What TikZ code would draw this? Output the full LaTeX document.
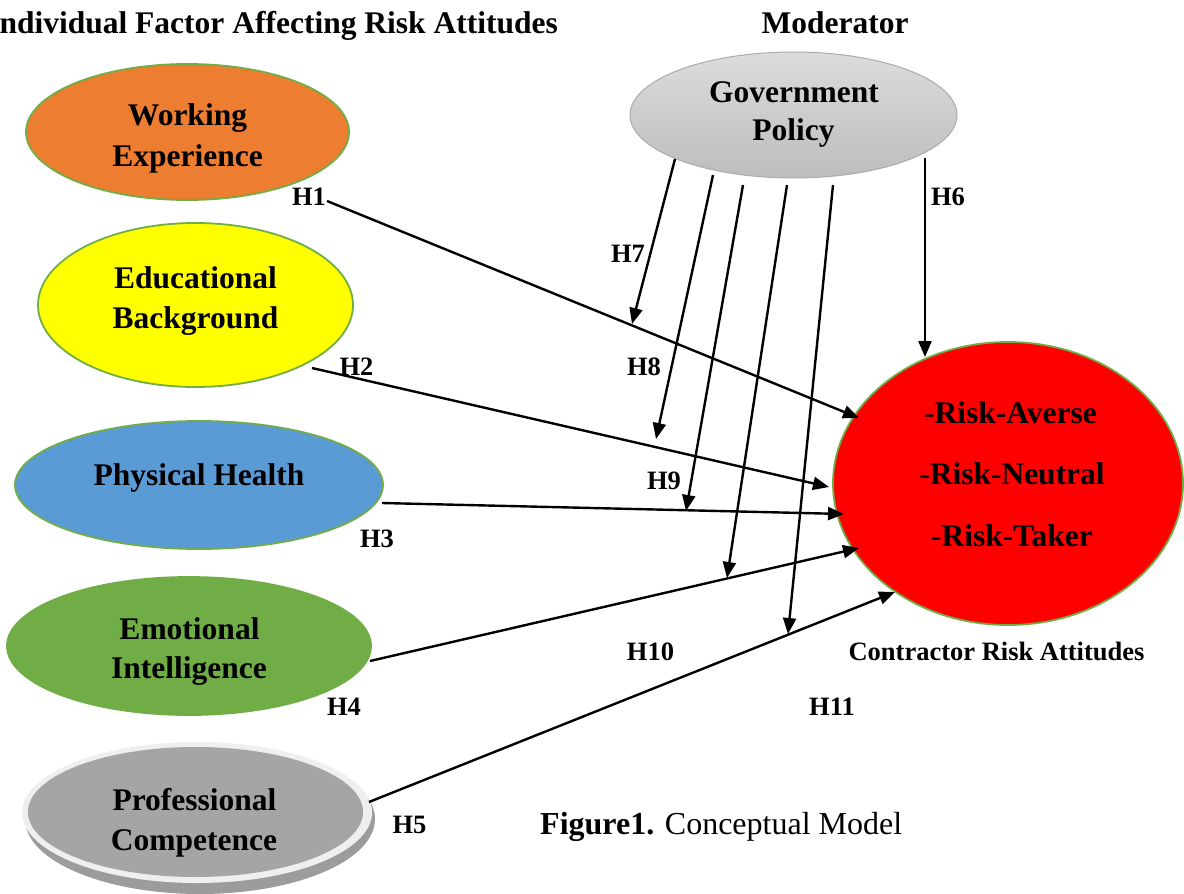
\documentclass[tikz,border=0pt]{standalone}
\usepackage{fontspec}
\setmainfont{Liberation Serif}
\usetikzlibrary{arrows.meta,shapes.geometric}
\definecolor{orangeF}{HTML}{ED7D31}
\definecolor{yellowF}{HTML}{FFFF00}
\definecolor{blueF}{HTML}{5B9BD5}
\definecolor{greenF}{HTML}{70AD47}
\definecolor{grayF}{HTML}{A5A5A5}
\definecolor{ringF}{HTML}{EFEFEF}
\definecolor{shadowF}{HTML}{9C9C9C}
\definecolor{redF}{HTML}{FF0000}
\definecolor{govTop}{HTML}{DCDCDC}
\definecolor{govBot}{HTML}{BDBDBD}
\definecolor{govBorder}{HTML}{ABABAB}
\begin{document}
\begin{tikzpicture}[x=1pt,y=-1pt,
  ell/.style={ellipse, draw=greenF, line width=1.8pt, inner sep=0pt, outer sep=0pt},
  big/.style={font=\fontsize{31.5}{38}\selectfont\bfseries, anchor=base, inner sep=0pt},
  hl/.style={font=\fontsize{26.5}{30}\selectfont\bfseries, anchor=base, inner sep=0pt},
  arr/.style={line width=2.4pt, -{Triangle[length=16pt,width=13pt]}},
]
\clip (0,0) rectangle (1184,894);

% titles
\node[big, anchor=base east] (title) at (558,34) {Individual Factor Affecting Risk Attitudes};
\node[big] (moder) at (835,34) {Moderator};

% left ellipses
\node[ell, fill=orangeF, minimum width=323pt, minimum height=136pt] (we) at (187.5,132) {};
\node[ell, fill=yellowF, minimum width=315pt, minimum height=164pt] (eb) at (195.5,305) {};
\node[ell, fill=blueF, minimum width=368pt, minimum height=128pt] (ph) at (199,485) {};
\node[ell, fill=greenF, minimum width=364pt, minimum height=138pt] (ei) at (189,646) {};
\fill[shadowF] (200,819) ellipse [x radius=175, y radius=75];
\node[ellipse, fill=ringF, inner sep=0pt, outer sep=0pt, minimum width=350pt, minimum height=141pt] (pcring) at (197,812.5) {};
\node[ellipse, fill=grayF, inner sep=0pt, outer sep=0pt, minimum width=335pt, minimum height=130pt] (pc) at (195.5,812) {};

% moderator and outcome
\node[ellipse, draw=govBorder, line width=1pt, top color=govTop, bottom color=govBot, inner sep=0pt, outer sep=0pt, minimum width=327pt, minimum height=126pt] (gp) at (793.5,115) {};
\node[ell, fill=redF, minimum width=350pt, minimum height=283pt] (cra) at (1008,483.5) {};

% ellipse texts
\node[big] (twe1) at (187.5,125) {Working};
\node[big] (twe2) at (187.5,166) {Experience};
\node[big] (teb1) at (195.5,288) {Educational};
\node[big] (teb2) at (195.5,328) {Background};
\node[big] (tph) at (199,485) {Physical Health};
\node[big] (tei1) at (189.5,639) {Emotional};
\node[big] (tei2) at (189,678) {Intelligence};
\node[big] (tpc1) at (194.5,810) {Professional};
\node[big] (tpc2) at (194,850) {Competence};
\node[big] (tgp1) at (794,102) {Government};
\node[big] (tgp2) at (793.5,140) {Policy};
\node[big] (tr1) at (1010.5,423) {{\mdseries -}Risk-Averse};
\node[big] (tr2) at (1012,484) {-Risk-Neutral};
\node[big] (tr3) at (1012,546) {-Risk-Taker};
\node[hl] (tcra) at (996.5,660) {Contractor Risk Attitudes};
\node[anchor=base west, inner sep=0pt, font=\fontsize{32}{38}\selectfont] (cap) at (540,834) {\textbf{Figure1.} Conceptual Model};

% hypothesis labels
\node[hl] (H1) at (309,205) {H1};
\node[hl] (H2) at (356.5,375) {H2};
\node[hl] (H3) at (377,547) {H3};
\node[hl] (H4) at (344,715) {H4};
\node[hl] (H5) at (409.5,833) {H5};
\node[hl] (H6) at (948,205) {H6};
\node[hl] (H7) at (628,262) {H7};
\node[hl] (H8) at (644,375) {H8};
\node[hl] (H9) at (664,489) {H9};
\node[hl] (H10) at (650.5,660) {H10};
\node[hl] (H11) at (832,715) {H11};

% connector ends
\coordinate (s1) at (327,201);  \coordinate (t1) at (859,418);
\coordinate (s2) at (312,368);  \coordinate (t2) at (829,487);
\coordinate (s3) at (382,503);  \coordinate (t3) at (844,514);
\coordinate (s4) at (370,661);  \coordinate (t4) at (859,548);
\coordinate (s5) at (369,802);  \coordinate (t5) at (895,592);
\coordinate (s6) at (925,158);  \coordinate (t6) at (925,357);
\coordinate (s7) at (675,159);  \coordinate (t7) at (632,324);
\coordinate (s8) at (713,175);  \coordinate (t8) at (656,439);
\coordinate (s9) at (743,185);  \coordinate (t9) at (686,511);
\coordinate (s10) at (787,185); \coordinate (t10) at (727,578);
\coordinate (s11) at (833,185); \coordinate (t11) at (788,634);

\foreach \i in {1,...,11} {\draw[arr] (s\i) -- (t\i);}
\end{tikzpicture}
\end{document}
